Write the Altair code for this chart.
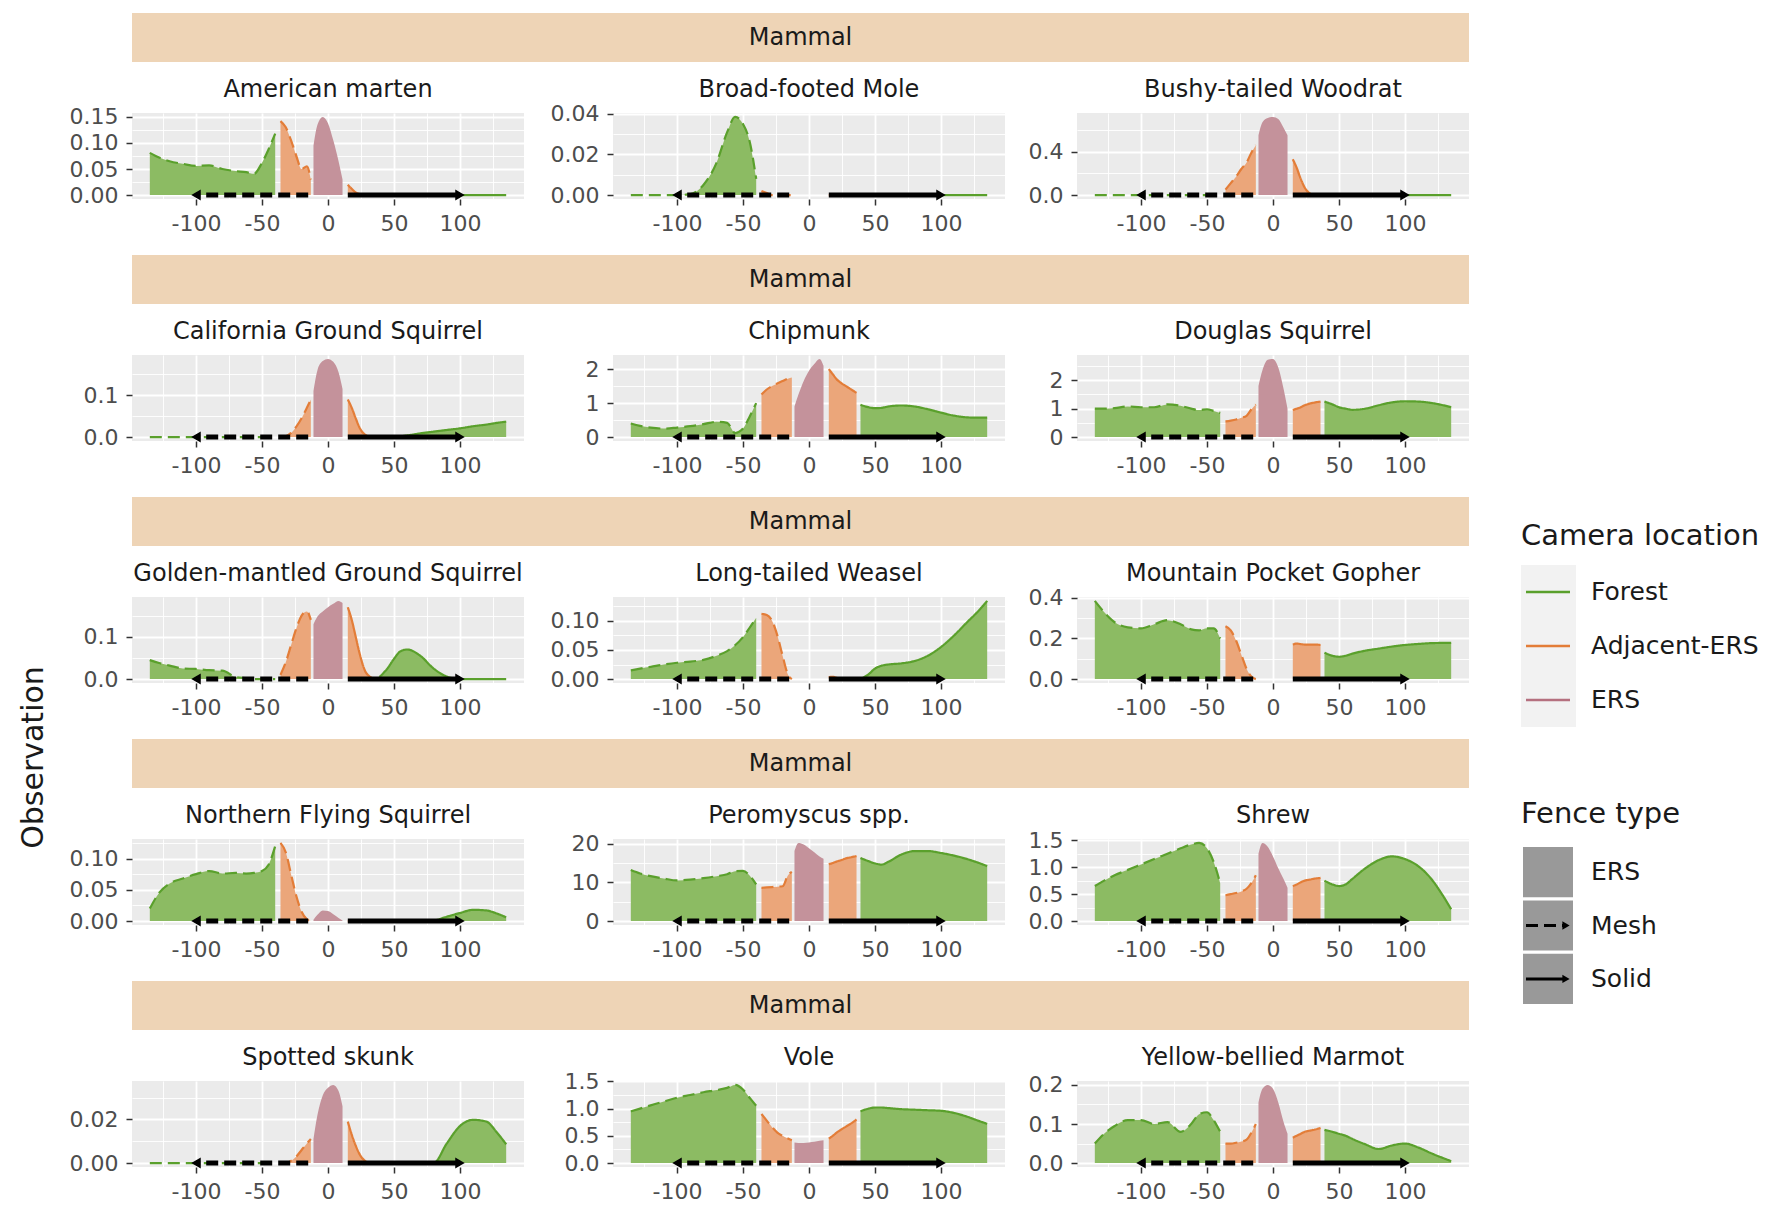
import math
import altair as alt
import pandas as pd

# ---------------- data ----------------
GROUP = "Mammal"
SPECIES = [
    "American marten", "Broad-footed Mole", "Bushy-tailed Woodrat",
    "California Ground Squirrel", "Chipmunk", "Douglas Squirrel",
    "Golden-mantled Ground Squirrel", "Long-tailed Weasel", "Mountain Pocket Gopher",
    "Northern Flying Squirrel", "Peromyscus spp.", "Shrew",
    "Spotted skunk", "Vole", "Yellow-bellied Marmot",
]
LOCATIONS = ["Forest", "Adjacent-ERS", "ERS"]
FENCE_TYPES = ["ERS", "Mesh", "Solid"]

# distance positions of each segment
X_FOREST_MESH = [-135, -128, -120, -110, -100, -90, -80, -70, -62, -56, -50, -45, -40]
X_ADJ_MESH = [-36, -32, -28, -24, -20, -16, -13]
X_ERS = [-11, -8, -4, 0, 4, 8, 11]
X_ADJ_SOLID = [15, 18, 21, 24, 28, 32, 36]
X_FOREST_SOLID = [39, 45, 50, 55, 60, 70, 80, 90, 100, 110, 120, 128, 135]

# observation values: [forest-mesh, adjacent-mesh, ERS, adjacent-solid, forest-solid]
AMERICAN_MARTEN = [
    [0.081, 0.072, 0.065, 0.060, 0.056, 0.057, 0.050, 0.046, 0.044, 0.041, 0.062, 0.088, 0.118],
    [0.142, 0.130, 0.105, 0.075, 0.050, 0.055, 0.030],
    [0.095, 0.135, 0.150, 0.138, 0.105, 0.065, 0.030],
    [0.020, 0.012, 0.005, 0.002, 0, 0, 0],
    [0, 0, 0, 0, 0, 0, 0, 0, 0, 0, 0, 0, 0],
]
BROAD_FOOTED_MOLE = [
    [0, 0, 0, 0, 0, 0.0005, 0.005, 0.016, 0.031, 0.0385, 0.035, 0.0265, 0.008],
    [0.002, 0.001, 0, 0, 0, 0, 0],
    [0, 0, 0, 0, 0, 0, 0],
    [0, 0, 0, 0, 0, 0, 0],
    [0, 0, 0, 0, 0, 0, 0, 0, 0, 0, 0, 0, 0],
]
BUSHY_TAILED_WOODRAT = [
    [0, 0, 0, 0, 0, 0, 0, 0, 0, 0, 0, 0, 0],
    [0.05, 0.11, 0.17, 0.24, 0.30, 0.40, 0.46],
    [0.55, 0.67, 0.71, 0.72, 0.70, 0.62, 0.55],
    [0.33, 0.25, 0.15, 0.07, 0.015, 0, 0],
    [0, 0, 0, 0, 0, 0, 0, 0, 0, 0, 0, 0, 0],
]
CALIFORNIA_GROUND_SQUIRREL = [
    [0, 0, 0, 0, 0, 0, 0, 0, 0, 0, 0, 0, 0],
    [0, 0.002, 0.010, 0.025, 0.045, 0.070, 0.090],
    [0.110, 0.160, 0.182, 0.187, 0.180, 0.155, 0.115],
    [0.090, 0.070, 0.045, 0.022, 0.006, 0.001, 0],
    [0, 0, 0.001, 0.002, 0.004, 0.009, 0.013, 0.017, 0.021, 0.026, 0.030, 0.034, 0.037],
]
CHIPMUNK = [
    [0.40, 0.33, 0.28, 0.25, 0.28, 0.32, 0.38, 0.45, 0.42, 0.12, 0.25, 0.60, 1.00],
    [1.25, 1.40, 1.50, 1.58, 1.65, 1.72, 1.75],
    [0.90, 1.25, 1.65, 1.95, 2.15, 2.30, 2.10],
    [2.00, 1.85, 1.70, 1.60, 1.50, 1.40, 1.30],
    [0.95, 0.88, 0.85, 0.86, 0.90, 0.93, 0.90, 0.82, 0.72, 0.63, 0.58, 0.57, 0.57],
]
DOUGLAS_SQUIRREL = [
    [1.00, 1.00, 1.02, 1.08, 1.05, 1.05, 1.15, 1.10, 1.00, 0.95, 0.98, 0.92, 0.85],
    [0.55, 0.58, 0.62, 0.68, 0.75, 1.00, 1.15],
    [1.80, 2.35, 2.72, 2.75, 2.45, 1.70, 1.00],
    [0.95, 1.00, 1.05, 1.12, 1.18, 1.22, 1.25],
    [1.25, 1.15, 1.05, 1.00, 0.96, 1.00, 1.12, 1.22, 1.26, 1.25, 1.20, 1.13, 1.05],
]
GOLDEN_MANTLED_GROUND_SQUIRREL = [
    [0.045, 0.038, 0.032, 0.025, 0.024, 0.021, 0.020, 0.005, 0.002, 0, 0, 0, 0],
    [0.010, 0.040, 0.080, 0.120, 0.150, 0.160, 0.140],
    [0.130, 0.148, 0.160, 0.170, 0.178, 0.185, 0.180],
    [0.170, 0.140, 0.100, 0.060, 0.020, 0.005, 0],
    [0.005, 0.025, 0.048, 0.066, 0.070, 0.055, 0.025, 0.006, 0, 0, 0, 0, 0],
]
LONG_TAILED_WEASEL = [
    [0.015, 0.018, 0.021, 0.025, 0.028, 0.030, 0.033, 0.040, 0.048, 0.058, 0.072, 0.088, 0.105],
    [0.112, 0.110, 0.100, 0.075, 0.040, 0.008, 0],
    [0, 0, 0, 0, 0, 0, 0],
    [0.003, 0.004, 0.002, 0, 0, 0, 0],
    [0, 0.008, 0.018, 0.023, 0.025, 0.027, 0.031, 0.040, 0.055, 0.075, 0.098, 0.116, 0.134],
]
MOUNTAIN_POCKET_GOPHER = [
    [0.385, 0.330, 0.280, 0.255, 0.250, 0.270, 0.290, 0.270, 0.245, 0.240, 0.250, 0.250, 0.200],
    [0.260, 0.240, 0.190, 0.120, 0.050, 0.010, 0],
    [0, 0, 0, 0, 0, 0, 0],
    [0.170, 0.175, 0.172, 0.170, 0.170, 0.170, 0.168],
    [0.130, 0.115, 0.110, 0.115, 0.125, 0.140, 0.150, 0.160, 0.168, 0.173, 0.177, 0.178, 0.178],
]
NORTHERN_FLYING_SQUIRREL = [
    [0.020, 0.045, 0.060, 0.068, 0.075, 0.080, 0.076, 0.077, 0.076, 0.077, 0.080, 0.090, 0.120],
    [0.125, 0.110, 0.075, 0.040, 0.015, 0.003, 0],
    [0.002, 0.010, 0.017, 0.016, 0.011, 0.005, 0.001],
    [0, 0, 0, 0, 0, 0, 0],
    [0, 0, 0, 0, 0, 0, 0.001, 0.007, 0.013, 0.018, 0.017, 0.012, 0.006],
]
PEROMYSCUS = [
    [13.2, 12.3, 11.6, 11.0, 10.5, 10.7, 11.1, 11.6, 12.1, 12.9, 13.0, 11.8, 9.5],
    [8.6, 8.7, 8.8, 8.9, 9.0, 11.8, 12.7],
    [18.1, 20.2, 19.8, 18.8, 17.8, 16.7, 16.1],
    [14.7, 15.0, 15.4, 15.7, 16.2, 16.5, 16.8],
    [16.3, 15.5, 14.9, 14.6, 15.3, 17.2, 18.1, 18.1, 17.6, 16.9, 16.0, 15.1, 14.2],
]
SHREW = [
    [0.65, 0.75, 0.85, 0.95, 1.05, 1.15, 1.25, 1.35, 1.42, 1.45, 1.35, 1.10, 0.70],
    [0.48, 0.50, 0.52, 0.55, 0.60, 0.72, 0.85],
    [1.25, 1.45, 1.38, 1.20, 0.98, 0.78, 0.62],
    [0.65, 0.68, 0.72, 0.75, 0.77, 0.79, 0.80],
    [0.75, 0.68, 0.65, 0.68, 0.78, 0.98, 1.13, 1.20, 1.15, 1.02, 0.78, 0.50, 0.22],
]
SPOTTED_SKUNK = [
    [0, 0, 0, 0, 0, 0, 0, 0, 0, 0, 0, 0, 0],
    [0, 0, 0.001, 0.003, 0.006, 0.009, 0.011],
    [0.011, 0.022, 0.031, 0.0345, 0.0358, 0.033, 0.026],
    [0.019, 0.013, 0.008, 0.004, 0.001, 0, 0],
    [0, 0, 0, 0, 0, 0, 0, 0.009, 0.017, 0.0198, 0.019, 0.014, 0.0086],
]
VOLE = [
    [0.95, 1.00, 1.06, 1.13, 1.20, 1.25, 1.30, 1.34, 1.38, 1.435, 1.35, 1.20, 1.05],
    [0.90, 0.78, 0.66, 0.56, 0.50, 0.45, 0.42],
    [0.38, 0.37, 0.37, 0.38, 0.39, 0.41, 0.42],
    [0.45, 0.50, 0.56, 0.61, 0.67, 0.73, 0.80],
    [0.95, 1.00, 1.02, 1.02, 1.01, 0.99, 0.98, 0.97, 0.96, 0.92, 0.85, 0.78, 0.72],
]
YELLOW_BELLIED_MARMOT = [
    [0.050, 0.075, 0.095, 0.110, 0.110, 0.100, 0.105, 0.080, 0.100, 0.125, 0.130, 0.110, 0.080],
    [0.050, 0.050, 0.052, 0.055, 0.060, 0.080, 0.100],
    [0.155, 0.190, 0.200, 0.190, 0.155, 0.105, 0.075],
    [0.065, 0.070, 0.075, 0.080, 0.083, 0.086, 0.090],
    [0.085, 0.080, 0.075, 0.070, 0.062, 0.048, 0.036, 0.045, 0.050, 0.040, 0.025, 0.014, 0.005],
]
SPECIES_VALUES = [
    AMERICAN_MARTEN, BROAD_FOOTED_MOLE, BUSHY_TAILED_WOODRAT,
    CALIFORNIA_GROUND_SQUIRREL, CHIPMUNK, DOUGLAS_SQUIRREL,
    GOLDEN_MANTLED_GROUND_SQUIRREL, LONG_TAILED_WEASEL, MOUNTAIN_POCKET_GOPHER,
    NORTHERN_FLYING_SQUIRREL, PEROMYSCUS, SHREW,
    SPOTTED_SKUNK, VOLE, YELLOW_BELLIED_MARMOT,
]
# y-axis major tick step and label format per panel
Y_STEPS = [0.05, 0.02, 0.4, 0.1, 1, 1, 0.1, 0.05, 0.2, 0.05, 10, 0.5, 0.02, 0.5, 0.1]
Y_FORMATS = [".2f", ".2f", ".1f", ".1f", "d", "d", ".1f", ".2f", ".1f", ".2f", "d", ".1f", ".2f", ".1f", ".1f"]

# fence arrows along the transect
ARROW_FENCE = ["Mesh", "Solid"]
ARROW_START = [-15, 15]
ARROW_END = [-100, 100]

# ---------------- style ----------------
FONT = "DejaVu Sans"
TEXT = "#1A1A1A"
AXIS_TEXT = "#4D4D4D"
FILL_COLORS = ["#8CBB63", "#EBA67A", "#C4929B"]
LINE_COLORS = ["#5AA02C", "#E37D38", "#B5707F"]
STRIP_COLOR = "#EED4B6"
PANEL_BG = "#EBEBEB"
KEY_BG = "#F2F2F2"
FENCE_KEY = "#999999"

X_DOMAIN = [-148.5, 148.5]
X_GRID = [-125, -100, -75, -50, -25, 0, 25, 50, 75, 100, 125]
PANEL_W, PANEL_H = 392, 86
COL_EXTENTS = [70, 79, 62]
LABEL_SIZE = 22
TITLE_GAP = 11

FILL_SCALE = alt.Scale(domain=LOCATIONS, range=FILL_COLORS)
STROKE_SCALE = alt.Scale(domain=LOCATIONS, range=LINE_COLORS)
DASH_SCALE = alt.Scale(domain=["Mesh", "Solid"], range=[[12, 6], [1, 0]])
HEAD_SCALE = alt.Scale(domain=["Mesh", "Solid"], range=["triangle-left", "triangle-right"])

SEGMENTS = [
    ("FM", "Forest", "Mesh", X_FOREST_MESH),
    ("AM", "Adjacent-ERS", "Mesh", X_ADJ_MESH),
    ("E", "ERS", "ERS", X_ERS),
    ("AS", "Adjacent-ERS", "Solid", X_ADJ_SOLID),
    ("FS", "Forest", "Solid", X_FOREST_SOLID),
]

X_MAJOR = "datum.value % 50 == 0"
X_AXIS = alt.Axis(
    values=X_GRID,
    labelExpr=f"{X_MAJOR} ? toString(datum.value) : ''",
    tickOpacity={"condition": {"test": X_MAJOR, "value": 1}, "value": 0},
    gridWidth={"condition": {"test": X_MAJOR, "value": 1.8}, "value": 0.9},
    title=None, domain=False, grid=True, gridColor="white",
    labelOverlap=False, labelFlush=False,
    tickSize=6, tickWidth=1.5, tickColor="#333333",
    labelPadding=8, labelFontSize=LABEL_SIZE, labelColor=AXIS_TEXT,
)

arrow_df = pd.DataFrame({"fence": ARROW_FENCE, "x": ARROW_START, "xend": ARROW_END,
                         "y": [0] * len(ARROW_FENCE)})


def make_panel(name, values, step, fmt, extent):
    rows = []
    for (seg, loc, fence, xs), ys in zip(SEGMENTS, values):
        for xv, yv in zip(xs, ys):
            rows.append({"x": xv, "y": yv, "seg": seg, "loc": loc, "fence": fence})
    df = pd.DataFrame(rows)
    m = float(df["y"].max())
    dom = [-0.05 * m, 1.05 * m]
    half = step / 2
    kmin = math.ceil(dom[0] / half - 1e-9)
    kmax = math.floor(dom[1] / half + 1e-9)
    ygrid = [round(k * half, 10) for k in range(kmin, kmax + 1)]
    # how far the top tick label pokes above the plot area: keep titles at a fixed gap
    overflow = max(0.0, max(LABEL_SIZE / 2 - PANEL_H * (dom[1] - v) / (dom[1] - dom[0])
                            for v in ygrid))
    major = f"abs(datum.value / {step} - round(datum.value / {step})) < 0.000001"
    y_axis = alt.Axis(
        values=ygrid,
        labelExpr=f"{major} ? format(datum.value, '{fmt}') : ''",
        tickOpacity={"condition": {"test": major, "value": 1}, "value": 0},
        gridWidth={"condition": {"test": major, "value": 1.8}, "value": 0.9},
        title=None, domain=False, grid=True, gridColor="white",
        labelOverlap=False, tickSize=6, tickWidth=1.5, tickColor="#333333",
        labelPadding=8, labelFontSize=LABEL_SIZE, labelColor=AXIS_TEXT,
        minExtent=extent, maxExtent=extent,
    )
    xs = alt.Scale(domain=X_DOMAIN, nice=False, zero=False)
    ys = alt.Scale(domain=dom, nice=False, zero=False)
    X = alt.X("x:Q", scale=xs, axis=X_AXIS)
    Y = alt.Y("y:Q", scale=ys, axis=y_axis, stack=None)

    area = alt.Chart(df).mark_area(interpolate="monotone").encode(
        x=X, y=Y, y2=alt.datum(0),
        fill=alt.Fill("loc:N", scale=FILL_SCALE, legend=None),
        detail="seg:N",
    )
    line = alt.Chart(df).transform_filter("datum.seg != 'E'").mark_line(
        interpolate="monotone", strokeWidth=2.2
    ).encode(
        x=X, y=Y,
        stroke=alt.Stroke("loc:N", scale=STROKE_SCALE, legend=None),
        strokeDash=alt.StrokeDash("fence:N", scale=DASH_SCALE, legend=None),
        detail="seg:N",
    )
    arrows = alt.Chart(arrow_df).mark_rule(strokeWidth=5, color="black").encode(
        x=X, x2="xend:Q", y=Y,
        strokeDash=alt.StrokeDash("fence:N", scale=DASH_SCALE, legend=None),
    )
    heads = alt.Chart(arrow_df).mark_point(filled=True, color="black", opacity=1, size=120).encode(
        x=alt.X("xend:Q", scale=xs, axis=X_AXIS), y=Y,
        shape=alt.Shape("fence:N", scale=HEAD_SCALE, legend=None),
    )
    return alt.layer(area, line, arrows, heads).properties(
        width=PANEL_W, height=PANEL_H,
        title=alt.TitleParams(text=name, fontSize=24, fontWeight="normal", color=TEXT,
                              offset=TITLE_GAP - overflow, anchor="middle"),
        view=alt.ViewBackground(fill=PANEL_BG, strokeWidth=0),
    )


def make_strip():
    sdf = pd.DataFrame({"g": [GROUP]})
    band = alt.Scale(paddingInner=0, paddingOuter=0)
    base = alt.Chart(sdf).encode(
        x=alt.X("g:N", axis=None, scale=band),
        y=alt.Y("g:N", scale=band, axis=alt.Axis(title=None, labels=False, ticks=False,
                                                 domain=False, grid=False,
                                                 minExtent=COL_EXTENTS[0],
                                                 maxExtent=COL_EXTENTS[0])),
    )
    return alt.layer(
        base.mark_rect(color=STRIP_COLOR),
        base.mark_text(fontSize=24, color=TEXT).encode(text="g:N"),
    ).properties(width=1337, height=49)


rows = []
for r in range(5):
    panels = []
    for c in range(3):
        i = r * 3 + c
        panels.append(make_panel(SPECIES[i], SPECIES_VALUES[i], Y_STEPS[i], Y_FORMATS[i],
                                 COL_EXTENTS[c]))
    rows.append(alt.vconcat(make_strip(), alt.hconcat(*panels, spacing=10), spacing=16))

main = alt.vconcat(
    *rows, spacing=21,
    title=alt.TitleParams("Observation", orient="left", anchor="middle", fontSize=30,
                          fontWeight="normal", color=TEXT, offset=13, dx=-150),
)

# ---------------- legends ----------------
cam_df = pd.DataFrame({"loc": LOCATIONS})
cam_y = alt.Y("loc:N", sort=LOCATIONS, axis=None, scale=alt.Scale(paddingInner=0, paddingOuter=0))
cam_yc = alt.Y("loc:N", sort=LOCATIONS, axis=None, bandPosition=0.5)
cam_legend = alt.layer(
    alt.Chart(cam_df).mark_rect(color=KEY_BG).encode(y=cam_y, x=alt.value(0), x2=alt.value(55)),
    alt.Chart(cam_df).mark_rule(strokeWidth=2.5).encode(
        y=cam_yc, x=alt.value(5), x2=alt.value(49),
        stroke=alt.Stroke("loc:N", scale=STROKE_SCALE, legend=None)),
    alt.Chart(cam_df).mark_text(align="left", fontSize=25, color=TEXT).encode(
        y=cam_yc, x=alt.value(70), text="loc:N"),
).properties(
    width=230, height=162,
    title=alt.TitleParams("Camera location", anchor="start", fontSize=29, fontWeight="normal",
                          color=TEXT, offset=14),
)

fence_df = pd.DataFrame({"fence": FENCE_TYPES})
fy = alt.Y("fence:N", sort=FENCE_TYPES, axis=None, scale=alt.Scale(paddingInner=0.06, paddingOuter=0))
fyc = alt.Y("fence:N", sort=FENCE_TYPES, axis=None, bandPosition=0.5)
fence_legend = alt.layer(
    alt.Chart(fence_df).mark_rect(color=FENCE_KEY).encode(y=fy, x=alt.value(2), x2=alt.value(52)),
    alt.Chart(fence_df).transform_filter("datum.fence != 'ERS'").mark_rule(
        strokeWidth=3, color="black").encode(
        y=fyc, x=alt.value(5), x2=alt.value(42),
        strokeDash=alt.StrokeDash("fence:N", scale=DASH_SCALE, legend=None)),
    alt.Chart(fence_df).transform_filter("datum.fence != 'ERS'").mark_point(
        shape="triangle-right", filled=True, color="black", opacity=1, size=70).encode(
        y=fyc, x=alt.value(45)),
    alt.Chart(fence_df).mark_text(align="left", fontSize=25, color=TEXT).encode(
        y=fyc, x=alt.value(70), text="fence:N"),
).properties(
    width=230, height=157,
    title=alt.TitleParams("Fence type", anchor="start", fontSize=29, fontWeight="normal",
                          color=TEXT, offset=18),
)

spacer = alt.Chart(pd.DataFrame({"s": [0]})).mark_point(opacity=0).encode(
    x=alt.X("s:Q", axis=None), y=alt.Y("s:Q", axis=None)
).properties(width=10, height=436)

legend_col = alt.vconcat(spacer, cam_legend, fence_legend, spacing=73)

chart = alt.hconcat(main, legend_col, spacing=52).properties(
    padding={"left": 10, "top": 5, "right": 2, "bottom": 0}
).configure(font=FONT).configure_view(strokeWidth=0).configure_title(font=FONT).configure_axis(
    labelFont=FONT
)

chart.save("out.html", embed_options={"renderer": "svg", "actions": False})
